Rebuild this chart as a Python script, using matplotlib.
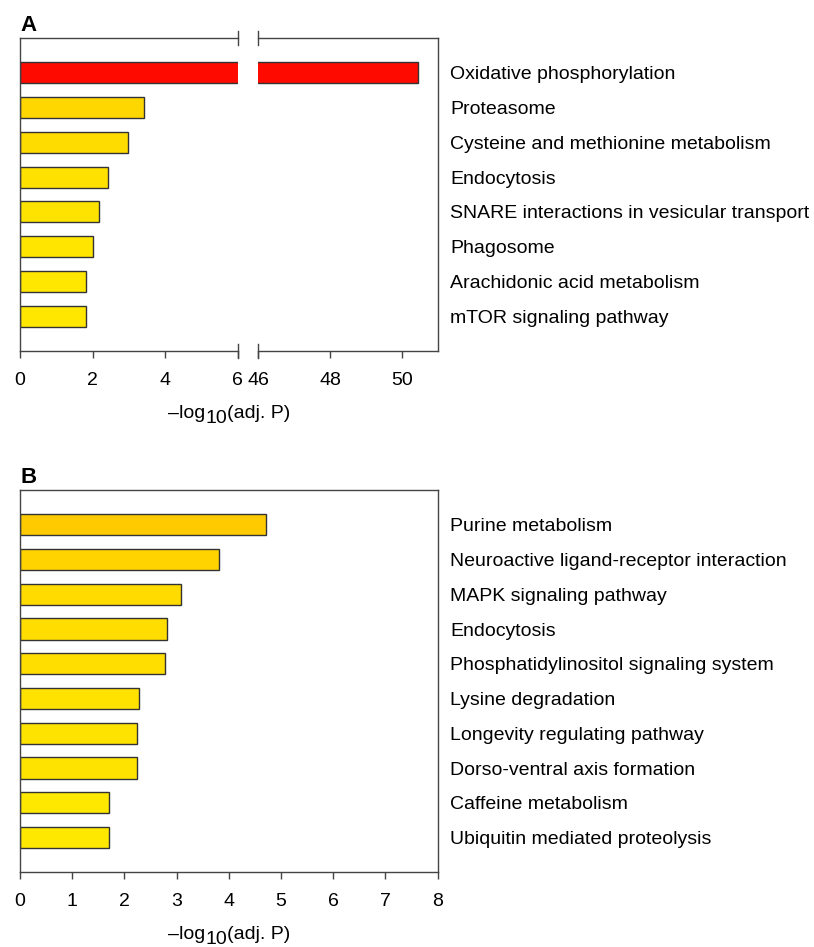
import numpy as np
import matplotlib.pyplot as plt
from matplotlib.transforms import blended_transform_factory

plt.rcParams['font.family'] = ['Liberation Sans', 'DejaVu Sans']

# panel A data
pathways_a = ['Oxidative phosphorylation', 'Proteasome',
              'Cysteine and methionine metabolism', 'Endocytosis',
              'SNARE interactions in vesicular transport', 'Phagosome',
              'Arachidonic acid metabolism', 'mTOR signaling pathway']
values_a = [50.44, 3.43, 2.98, 2.43, 2.19, 2.02, 1.81, 1.81]

# panel B data
pathways_b = ['Purine metabolism', 'Neuroactive ligand-receptor interaction',
              'MAPK signaling pathway', 'Endocytosis',
              'Phosphatidylinositol signaling system', 'Lysine degradation',
              'Longevity regulating pathway', 'Dorso-ventral axis formation',
              'Caffeine metabolism', 'Ubiquitin mediated proteolysis']
values_b = [4.71, 3.82, 3.08, 2.82, 2.77, 2.28, 2.25, 2.25, 1.71, 1.71]

W, H = 814, 947
FS = 14
SPINE = '#444444'
EDGE = '#333333'


def bar_color(v):
    g = np.interp(v, [1.7, 5.0, 50.0], [232, 200, 10]) / 255
    return (1.0, g, 0.0)


def px_axes(left, top, right, bottom):
    return fig.add_axes([left / W, 1 - bottom / H, (right - left) / W, (bottom - top) / H])


def style(ax):
    for s in ax.spines.values():
        s.set_color(SPINE)
        s.set_linewidth(1.0)
    ax.tick_params(axis='x', length=5, width=1, color=SPINE, labelsize=FS, pad=10)


def xlabel(xc, yb):
    # -log10(adj. P) with a big, low subscript like the original
    r = fig.canvas.get_renderer()
    parts = [('\u2013log', 0), ('10', -5), ('(adj. P)', 0)]
    texts = [fig.text(0, 0, p, fontsize=FS, va='baseline', ha='left') for p, _ in parts]
    widths = [t.get_window_extent(r).width for t in texts]
    x = xc - sum(widths) / 2
    for t, (p, dy), w in zip(texts, parts, widths):
        t.set_position((x / W, 1 - (yb - dy) / H))
        x += w


fig = plt.figure(figsize=(W / 100, H / 100), dpi=100)

# ---------- panel A (broken axis) ----------
ax1 = px_axes(20, 38, 237.7, 351)
ax2 = px_axes(258.3, 38, 438, 351)
ya = np.arange(len(values_a))
cols_a = [bar_color(v) for v in values_a]
for ax in (ax1, ax2):
    ax.barh(ya, values_a, height=0.61, color=cols_a, edgecolor=EDGE, linewidth=1)
    ax.set_ylim(8.0, -1.0)
    style(ax)
ax1.set_xlim(0, 6)
ax2.set_xlim(46, 51)
ax1.set_xticks([0, 2, 4, 6])
ax2.set_xticks([46, 48, 50])
ax1.spines['right'].set_visible(False)
ax2.spines['left'].set_visible(False)
ax1.set_yticks([])
ax2.yaxis.tick_right()
ax2.set_yticks(ya)
ax2.set_yticklabels(pathways_a, fontsize=FS)
ax2.tick_params(axis='y', length=0, pad=9)

# break marks
dy = 7 / (351 - 38)
for ax, xb in ((ax1, 6), (ax2, 46)):
    tr = blended_transform_factory(ax.transData, ax.transAxes)
    for y0 in (0, 1):
        ax.plot([xb, xb], [y0 - dy, y0 + dy], color=SPINE, lw=1,
                transform=tr, clip_on=False)

fig.text(20 / W, 1 - 31 / H, 'A', fontsize=16, fontweight='bold', ha='left', va='baseline')
xlabel(229, 418)

# ---------- panel B ----------
ax3 = px_axes(20, 490, 437.7, 872.3)
yb = np.arange(len(values_b))
ax3.barh(yb, values_b, height=0.61, color=[bar_color(v) for v in values_b],
         edgecolor=EDGE, linewidth=1)
ax3.set_xlim(0, 8)
ax3.set_xticks(range(9))
ax3.set_ylim(10.0, -1.0)
style(ax3)
ax3.yaxis.tick_right()
ax3.set_yticks(yb)
ax3.set_yticklabels(pathways_b, fontsize=FS)
ax3.tick_params(axis='y', length=0, pad=9)

fig.text(20 / W, 1 - 483 / H, 'B', fontsize=16, fontweight='bold', ha='left', va='baseline')
xlabel(229, 939)

fig.savefig('out.png', dpi=100)
